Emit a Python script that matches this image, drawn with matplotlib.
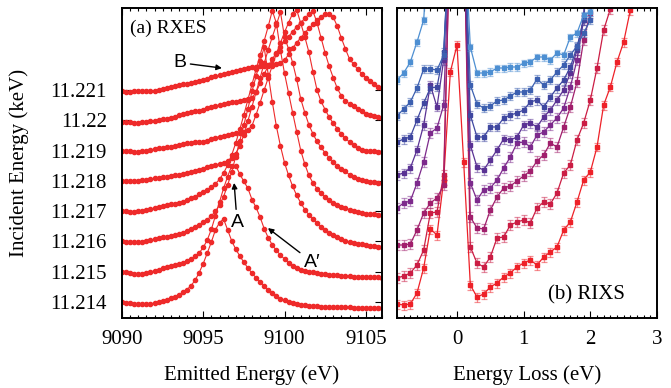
import numpy as np
import matplotlib
matplotlib.use("Agg")
import matplotlib.pyplot as plt
from matplotlib.ticker import MultipleLocator

plt.rcParams['font.family'] = ['Liberation Serif', 'DejaVu Serif']

# ---- (a) RXES: emitted energy grid and spectra (offset units, 1 unit = 1 eV of incident energy)
emitted = np.arange(9090.0, 9106.01, 0.25)
incident = [11.214, 11.215, 11.216, 11.217, 11.218, 11.219, 11.220, 11.221]
incident_labels = ['11.214', '11.215', '11.216', '11.217', '11.218', '11.219', '11.22', '11.221']

rxes_11214 = [0.00, -0.02, -0.04, -0.06, -0.07, -0.07, -0.06, -0.05,
              -0.04, -0.01, 0.03, 0.08, 0.12, 0.17, 0.24, 0.32,
              0.41, 0.54, 0.72, 0.97, 1.27, 1.62, 1.98, 2.38,
              2.62, 2.74, 2.38, 2.02, 1.74, 1.52, 1.31, 1.12,
              0.95, 0.80, 0.65, 0.52, 0.40, 0.29, 0.19, 0.11,
              0.05, 0.00, -0.04, -0.07, -0.09, -0.11, -0.12, -0.13,
              -0.14, -0.15, -0.15, -0.16, -0.17, -0.17, -0.18, -0.18,
              -0.18, -0.19, -0.19, -0.19, -0.19, -0.20, -0.20, -0.20, -0.20]
rxes_11215 = [0.00, -0.02, -0.04, -0.06, -0.07, -0.06, -0.04, -0.01,
              0.03, 0.07, 0.11, 0.15, 0.19, 0.22, 0.26, 0.30,
              0.35, 0.42, 0.51, 0.62, 0.80, 1.05, 1.40, 1.85,
              2.30, 2.75, 3.14, 3.50, 3.50, 3.22, 2.98, 2.75,
              2.38, 2.12, 1.80, 1.42, 1.12, 0.88, 0.70, 0.55,
              0.42, 0.30, 0.20, 0.13, 0.07, 0.03, 0.00, -0.02,
              -0.04, -0.06, -0.08, -0.10, -0.11, -0.12, -0.13, -0.14,
              -0.15, -0.16, -0.16, -0.17, -0.18, -0.18, -0.19, -0.19, -0.20]
rxes_11216 = [0.00, -0.01, -0.02, -0.02, -0.02, -0.01, 0.02, 0.05,
              0.07, 0.10, 0.13, 0.16, 0.19, 0.22, 0.25, 0.29,
              0.34, 0.40, 0.47, 0.55, 0.63, 0.72, 0.84, 1.00,
              1.20, 1.48, 1.85, 2.30, 2.80, 3.32, 3.85, 4.38,
              4.95, 5.45, 5.95, 6.40, 5.50, 4.60, 3.80, 3.15,
              2.60, 2.18, 1.82, 1.52, 1.27, 1.05, 0.88, 0.74,
              0.60, 0.48, 0.38, 0.29, 0.21, 0.14, 0.08, 0.02,
              -0.02, -0.05, -0.08, -0.10, -0.12, -0.14, -0.15, -0.17, -0.18]
rxes_11217 = [0.00, -0.01, -0.02, -0.02, -0.01, 0.01, 0.04, 0.07,
              0.10, 0.13, 0.16, 0.19, 0.22, 0.24, 0.27, 0.30,
              0.36, 0.42, 0.48, 0.55, 0.62, 0.70, 0.78, 0.90,
              1.05, 1.25, 1.52, 1.85, 2.25, 2.70, 3.18, 3.68,
              4.18, 4.68, 5.15, 5.62, 6.10, 6.62, 6.20, 5.30,
              4.55, 3.90, 3.25, 2.62, 2.00, 1.55, 1.18, 0.93,
              0.74, 0.60, 0.46, 0.36, 0.28, 0.21, 0.15, 0.10,
              0.05, 0.01, -0.03, -0.06, -0.08, -0.10, -0.11, -0.12, -0.13]
rxes_11218 = [0.00, -0.01, -0.01, -0.01, 0.00, 0.02, 0.04, 0.06,
              0.08, 0.10, 0.12, 0.14, 0.16, 0.18, 0.20, 0.23,
              0.26, 0.29, 0.32, 0.36, 0.40, 0.44, 0.48, 0.52,
              0.56, 0.60, 0.66, 0.75, 0.90, 1.15, 1.52, 1.98,
              2.45, 2.92, 3.40, 3.88, 4.33, 4.75, 5.15, 5.57,
              4.75, 4.35, 3.90, 3.35, 2.70, 2.25, 1.85, 1.55,
              1.30, 1.10, 0.92, 0.76, 0.62, 0.50, 0.40, 0.31,
              0.20, 0.12, 0.05, 0.01, -0.02, -0.04, -0.05, -0.06, -0.07]
rxes_11219 = [0.00, -0.02, -0.03, -0.04, -0.04, -0.03, -0.01, 0.02,
              0.05, 0.07, 0.09, 0.11, 0.13, 0.16, 0.19, 0.22,
              0.25, 0.26, 0.27, 0.28, 0.29, 0.33, 0.37, 0.42,
              0.46, 0.49, 0.51, 0.54, 0.57, 0.59, 0.62, 0.68,
              0.82, 1.18, 1.58, 2.00, 2.40, 2.80, 3.20, 3.55,
              3.90, 4.22, 4.52, 4.64, 4.20, 3.75, 3.25, 2.60,
              2.00, 1.62, 1.35, 1.10, 0.90, 0.72, 0.55, 0.40,
              0.28, 0.17, 0.08, 0.03, 0.00, -0.02, -0.03, -0.04, -0.05]
rxes_11220 = [-0.05, -0.06, -0.07, -0.08, -0.08, -0.07, -0.05, -0.03,
              -0.01, 0.01, 0.03, 0.05, 0.07, 0.11, 0.16, 0.20,
              0.23, 0.26, 0.29, 0.32, 0.35, 0.39, 0.44, 0.48,
              0.50, 0.53, 0.56, 0.59, 0.61, 0.64, 0.67, 0.70,
              0.74, 0.92, 1.22, 1.52, 1.80, 2.02, 2.22, 2.42,
              2.60, 2.76, 2.92, 3.08, 3.22, 3.36, 3.50, 3.60,
              3.22, 2.72, 2.22, 1.78, 1.40, 1.05, 0.80, 0.64,
              0.54, 0.46, 0.38, 0.29, 0.22, 0.17, 0.13, 0.10, 0.08]
rxes_11221 = [-0.05, -0.06, -0.06, -0.05, -0.05, -0.05, -0.04, -0.03,
              -0.02, 0.01, 0.04, 0.07, 0.10, 0.12, 0.15, 0.18,
              0.21, 0.24, 0.27, 0.30, 0.33, 0.37, 0.41, 0.45,
              0.49, 0.52, 0.56, 0.60, 0.63, 0.66, 0.69, 0.71,
              0.74, 0.76, 0.78, 0.80, 0.82, 0.84, 0.86, 0.88,
              0.98, 1.17, 1.38, 1.56, 1.72, 1.88, 2.03, 2.16,
              2.30, 2.42, 2.50, 2.50, 2.40, 2.10, 1.71, 1.35,
              1.02, 0.85, 0.68, 0.54, 0.40, 0.28, 0.18, 0.10, 0.05]
rxes = [rxes_11214, rxes_11215, rxes_11216, rxes_11217,
        rxes_11218, rxes_11219, rxes_11220, rxes_11221]

# ---- (b) RIXS: energy loss grid and stacked spectra (arb. units, already offset)
loss = np.round(np.arange(-0.9, 2.75, 0.1), 2)
rixs_11214 = [1.4, 1.3, 1.4, 2.5, 5.0, 8.9, 8.3, 13.8, 24.6, 27.3, 15.6, 3.3, 2.1, 2.4,
              3.1, 3.5, 4.1, 4.5, 5.1, 5.5, 5.8, 5.3, 6.1, 6.6, 7.1, 8.8, 9.6, 11.6,
              13.8, 14.6, 17.1, 21.3, 23.1, 25.6, 27.6, 30.8, 40]
rixs_11215 = [4.0, 4.2, 4.5, 5.3, 6.8, 10.5, 10.6, 14.3, 40, 40, 40, 7.1, 5.5, 5.1,
              6.1, 8.0, 8.1, 9.3, 9.6, 9.8, 9.5, 11.0, 11.6, 11.4, 12.5, 14.5, 15.3,
              17.8, 19.5, 21.8, 25.0, 28.8, 30.9, 40]
rixs_11216 = [7.3, 7.3, 7.4, 8.8, 10.5, 11.5, 12.0, 13.3, 40, 40, 40, 10.1, 9.0, 8.9,
              10.8, 12.1, 13.0, 13.2, 13.7, 14.2, 14.7, 15.7, 16.3, 17.5, 17.1, 19.1,
              21.1, 23.6, 27.8, 30.5, 40]
rixs_11217 = [11.0, 11.5, 11.7, 13.5, 15.6, 18.5, 19.0, 21.3, 40, 40, 40, 13.5, 11.8,
              12.8, 13.0, 13.8, 15.0, 16.1, 17.5, 17.6, 17.1, 18.3, 18.6, 19.3, 20.0,
              21.0, 23.1, 25.8, 29.8, 40]
rixs_11218 = [14.3, 14.5, 15.0, 16.8, 19.3, 23.3, 21.1, 25.8, 40, 40, 40, 17.3, 15.1,
              14.8, 15.8, 16.8, 17.9, 17.8, 18.1, 19.3, 19.5, 19.1, 20.1, 20.8, 21.8,
              22.8, 24.5, 26.8, 30.1, 40]
rixs_11219 = [17.6, 17.9, 18.1, 19.8, 21.5, 23.0, 23.1, 26.6, 40, 40, 40, 20.3, 18.1,
              18.1, 19.1, 19.1, 20.0, 20.3, 20.5, 20.8, 21.6, 21.8, 21.1, 22.1, 23.0,
              23.8, 25.1, 27.1, 29.8, 40]
rixs_11220 = [20.2, 20.9, 21.6, 23.0, 24.9, 24.9, 24.8, 26.3, 40, 40, 40, 23.3, 21.4,
              21.0, 21.2, 21.7, 21.8, 22.2, 22.6, 22.6, 22.8, 23.9, 23.3, 23.8, 24.6,
              25.3, 26.3, 27.2, 28.5, 29.8, 40]
rixs_11221 = [23.8, 24.5, 25.6, 27.6, 29.8, 40, 40, 40, 40, 40, 40, 27.1, 24.5, 24.5,
              24.6, 25.0, 25.0, 25.1, 25.1, 25.5, 25.6, 26.1, 26.1, 25.8, 26.5, 26.3,
              28.1, 28.5, 30.3, 30.6, 40]
rixs = [rixs_11214, rixs_11215, rixs_11216, rixs_11217,
        rixs_11218, rixs_11219, rixs_11220, rixs_11221]
rixs_err = [0.45, 0.5, 0.5, 0.5, 0.45, 0.45, 0.4, 0.35]
rixs_colors = ['#ee2128', '#cb1d44', '#a11f6c', '#7d2a8c',
               '#5a3294', '#3f47a0', '#3c60b0', '#4d8fd2']

fig = plt.figure(figsize=(6.71, 3.88), dpi=100)
ax1 = fig.add_axes([122 / 671, 70 / 388, 260 / 671, 310 / 388])
ax2 = fig.add_axes([397 / 671, 70 / 388, 260 / 671, 310 / 388])

red = '#ee2a2a'
for e0, spec in zip(incident, rxes):
    ax1.plot(emitted, e0 + np.array(spec) * 0.001, '-o', color=red,
             lw=0.8, ms=3.0, mec=red, mfc=red)

ax1.set_xlim(9090, 9106)
ax1.set_ylim(11.213472, 11.223703)
ax1.set_yticks(incident)
ax1.set_yticklabels(incident_labels)
ax1.xaxis.set_major_locator(MultipleLocator(5))
ax1.xaxis.set_minor_locator(MultipleLocator(0.5))
ax1.set_xlabel('Emitted Energy (eV)', fontsize=15, labelpad=11)
ax1.set_ylabel('Incident Energy (keV)', fontsize=15, labelpad=15)
ax1.text(0.03, 0.935, '(a) RXES', transform=ax1.transAxes, fontsize=14,
         ha='left', va='center')

sans = ['Liberation Sans', 'DejaVu Sans']
arrow = dict(arrowstyle='-|>', color='black', lw=1.0, mutation_scale=8,
             shrinkA=1, shrinkB=0)
ax1.annotate('B', xy=(9096.15, 11.22172), xytext=(9093.55, 11.2219),
             fontsize=14, family=sans, ha='center', va='center', arrowprops=arrow)
ax1.annotate('A', xy=(9096.9, 11.21793), xytext=(9097.08, 11.21664),
             fontsize=14, family=sans, ha='center', va='center', arrowprops=arrow)
ax1.annotate('A\u2032', xy=(9098.98, 11.21644), xytext=(9101.7, 11.21532),
             fontsize=14, family=sans, ha='center', va='center', arrowprops=arrow)

for vals, col, err in zip(rixs, rixs_colors, rixs_err):
    x = loss[:len(vals)]
    ax2.errorbar(x, vals, yerr=err, fmt='none', ecolor=col, alpha=0.5,
                 elinewidth=0.9, capsize=2.3, capthick=0.9)
    ax2.plot(x, vals, '-s', color=col, lw=0.9, ms=2.4)

ax2.set_xlim(-0.9, 3.0)
ax2.set_ylim(0, 31.0)
ax2.set_yticks([])
ax2.xaxis.set_major_locator(MultipleLocator(1))
ax2.xaxis.set_minor_locator(MultipleLocator(0.1))
ax2.set_xlabel('Energy Loss (eV)', fontsize=15, labelpad=11)
ax2.text(0.58, 0.074, '(b) RIXS', transform=ax2.transAxes, fontsize=15,
         ha='left', va='center')

for ax in (ax1, ax2):
    for s in ax.spines.values():
        s.set_linewidth(1.4)
    ax.tick_params(which='both', direction='in', top=True, right=True,
                   labelsize=15, width=0.8)
    ax.tick_params(which='major', length=5)
    ax.tick_params(which='minor', length=2.5)
    ax.tick_params(axis='x', which='major', pad=9)
ax1.tick_params(axis='y', which='major', pad=11)
ax2.tick_params(axis='y', which='both', left=False, right=False)

fig.savefig('out.png', dpi=100)
